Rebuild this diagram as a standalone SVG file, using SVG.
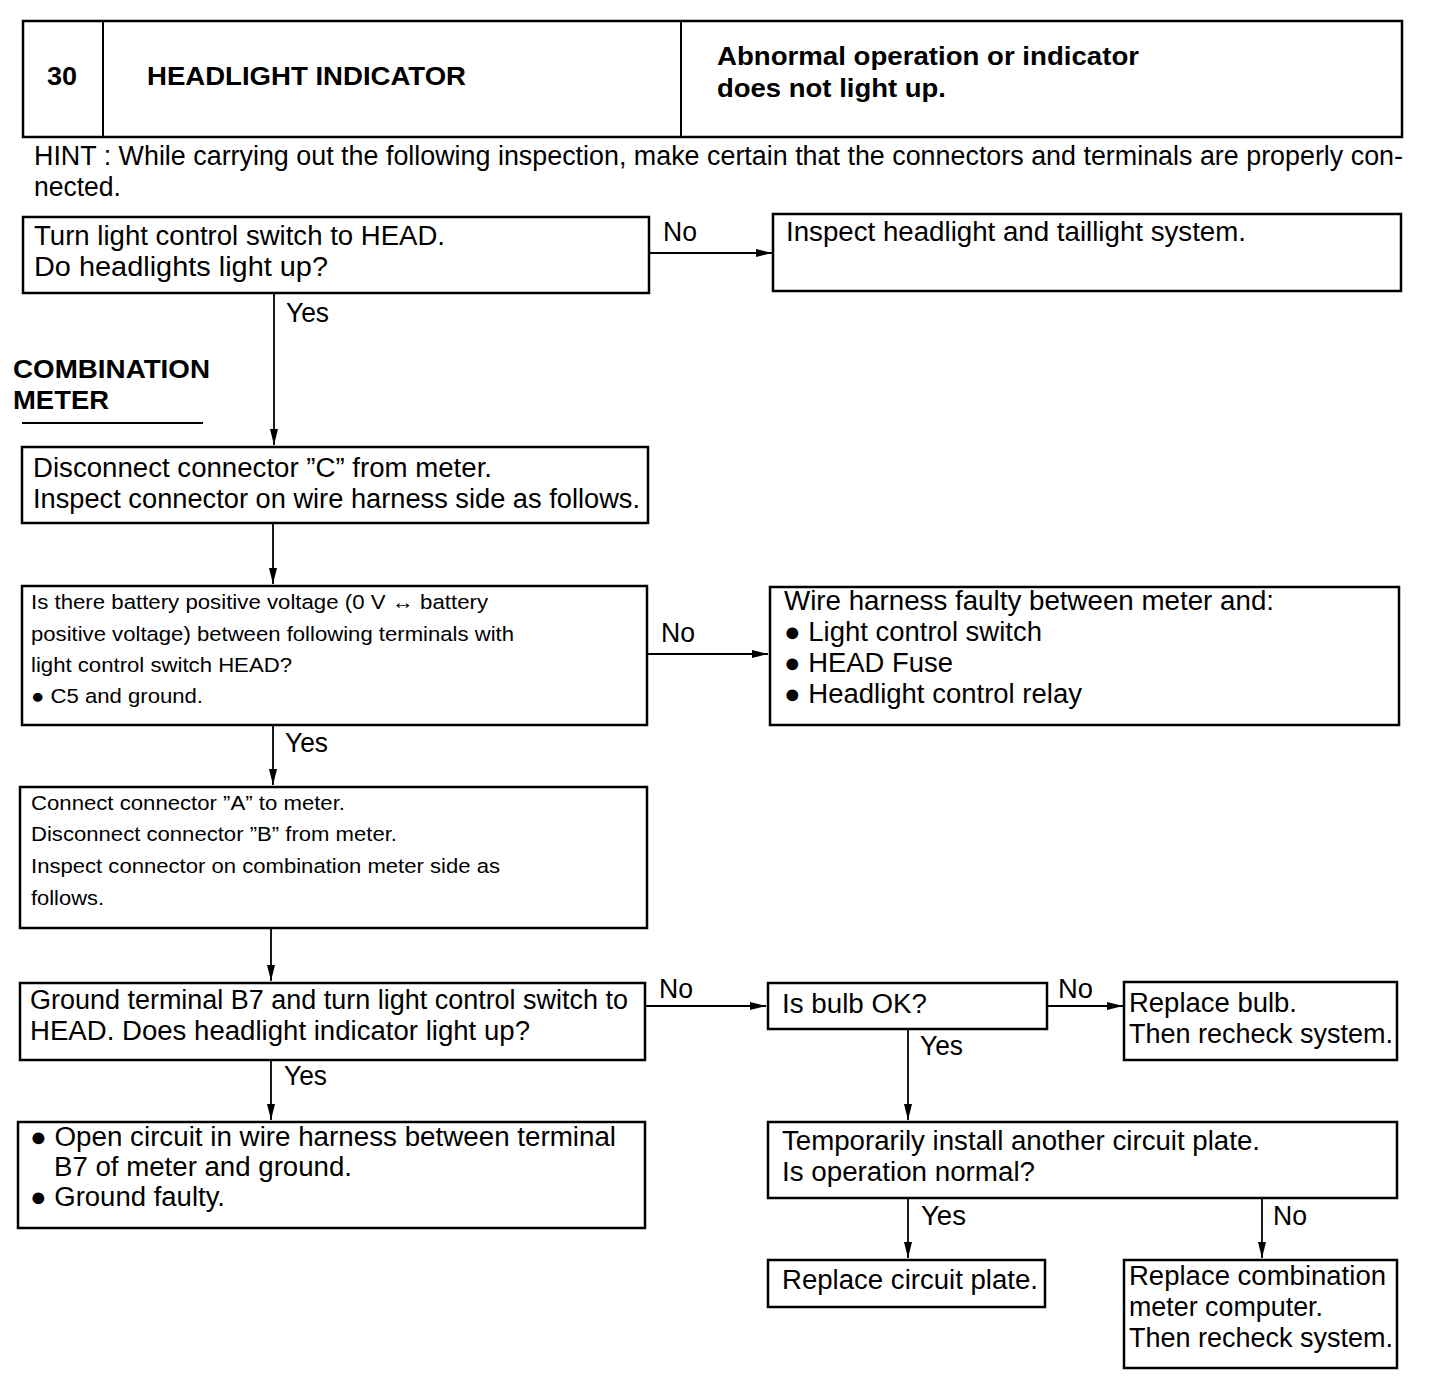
<svg xmlns="http://www.w3.org/2000/svg" width="1440" height="1398" viewBox="0 0 1440 1398">
<style>
.bx{fill:#fff;stroke:#000;stroke-width:2.5}
.t{font-family:"Liberation Sans",Arial,sans-serif;font-size:27px;fill:#000}
.s{font-family:"Liberation Sans",Arial,sans-serif;font-size:20.5px;fill:#000}
.b{font-family:"Liberation Sans",Arial,sans-serif;font-size:26px;font-weight:bold;fill:#000}
.c{fill:none;stroke:#000;stroke-width:1.8}
</style>
<defs>
<marker id="ah" viewBox="0 0 16 9" refX="16" refY="4.5" markerWidth="16" markerHeight="9" markerUnits="userSpaceOnUse" orient="auto">
<path d="M0,0.5 L16,4.5 L0,8.5 Z" fill="#000"/>
</marker>
</defs>
<rect width="1440" height="1398" fill="#fff"/>

<g id="header">
<rect class="bx" x="23" y="21" width="1379" height="116"/>
<line x1="103" y1="21" x2="103" y2="137" stroke="#000" stroke-width="2"/>
<line x1="681" y1="21" x2="681" y2="137" stroke="#000" stroke-width="2"/>
<text class="b" x="47" y="85" textLength="30" lengthAdjust="spacingAndGlyphs">30</text>
<text class="b" x="147" y="85" textLength="319" lengthAdjust="spacingAndGlyphs">HEADLIGHT INDICATOR</text>
<text class="b" x="717" y="65" textLength="422" lengthAdjust="spacingAndGlyphs">Abnormal operation or indicator</text>
<text class="b" x="717" y="97" textLength="229" lengthAdjust="spacingAndGlyphs">does not light up.</text>
</g>

<g id="hint">
<text class="t" x="34" y="165" textLength="1369" lengthAdjust="spacingAndGlyphs">HINT : While carrying out the following inspection, make certain that the connectors and terminals are properly con-</text>
<text class="t" x="34" y="196" textLength="87" lengthAdjust="spacingAndGlyphs">nected.</text>
</g>

<g id="section-label">
<text class="b" x="13" y="378" textLength="197" lengthAdjust="spacingAndGlyphs">COMBINATION</text>
<text class="b" x="13" y="409" textLength="96" lengthAdjust="spacingAndGlyphs">METER</text>
<line x1="22" y1="423" x2="203" y2="423" stroke="#000" stroke-width="2"/>
</g>

<g id="connectors">
<line class="c" x1="649" y1="253" x2="772" y2="253" marker-end="url(#ah)"/>
<line class="c" x1="274" y1="293" x2="274" y2="445" marker-end="url(#ah)"/>
<line class="c" x1="273" y1="523" x2="273" y2="584" marker-end="url(#ah)"/>
<line class="c" x1="647" y1="654" x2="768" y2="654" marker-end="url(#ah)"/>
<line class="c" x1="273" y1="725" x2="273" y2="785" marker-end="url(#ah)"/>
<line class="c" x1="271" y1="928" x2="271" y2="981" marker-end="url(#ah)"/>
<line class="c" x1="645" y1="1006" x2="766" y2="1006" marker-end="url(#ah)"/>
<line class="c" x1="1047" y1="1006" x2="1123" y2="1006" marker-end="url(#ah)"/>
<line class="c" x1="908" y1="1029" x2="908" y2="1120" marker-end="url(#ah)"/>
<line class="c" x1="908" y1="1198" x2="908" y2="1258" marker-end="url(#ah)"/>
<line class="c" x1="1262" y1="1198" x2="1262" y2="1258" marker-end="url(#ah)"/>
<line class="c" x1="271" y1="1060" x2="271" y2="1120" marker-end="url(#ah)"/>
<text class="t" x="663" y="241" textLength="34" lengthAdjust="spacingAndGlyphs">No</text>
<text class="t" x="286" y="322" textLength="43" lengthAdjust="spacingAndGlyphs">Yes</text>
<text class="t" x="661" y="642" textLength="34" lengthAdjust="spacingAndGlyphs">No</text>
<text class="t" x="285" y="752" textLength="43" lengthAdjust="spacingAndGlyphs">Yes</text>
<text class="t" x="659" y="998" textLength="34" lengthAdjust="spacingAndGlyphs">No</text>
<text class="t" x="1058" y="998" textLength="35" lengthAdjust="spacingAndGlyphs">No</text>
<text class="t" x="920" y="1055" textLength="43" lengthAdjust="spacingAndGlyphs">Yes</text>
<text class="t" x="921" y="1225" textLength="45" lengthAdjust="spacingAndGlyphs">Yes</text>
<text class="t" x="1273" y="1225" textLength="34" lengthAdjust="spacingAndGlyphs">No</text>
<text class="t" x="284" y="1085" textLength="43" lengthAdjust="spacingAndGlyphs">Yes</text>
</g>

<g id="n1">
<rect class="bx" x="23" y="217" width="626" height="76"/>
<text class="t" x="34" y="245" textLength="411" lengthAdjust="spacingAndGlyphs">Turn light control switch to HEAD.</text>
<text class="t" x="34" y="276" textLength="294" lengthAdjust="spacingAndGlyphs">Do headlights light up?</text>
</g>

<g id="n2">
<rect class="bx" x="773" y="214" width="628" height="77"/>
<text class="t" x="786" y="241" textLength="460" lengthAdjust="spacingAndGlyphs">Inspect headlight and taillight system.</text>
</g>

<g id="n3">
<rect class="bx" x="22" y="447" width="626" height="76"/>
<text class="t" x="33" y="477" textLength="459" lengthAdjust="spacingAndGlyphs">Disconnect connector ”C” from meter.</text>
<text class="t" x="33" y="508" textLength="607" lengthAdjust="spacingAndGlyphs">Inspect connector on wire harness side as follows.</text>
</g>

<g id="n4">
<rect class="bx" x="22" y="586" width="625" height="139"/>
<text class="s" x="31" y="609" textLength="457" lengthAdjust="spacingAndGlyphs">Is there battery positive voltage (0 V ↔ battery</text>
<text class="s" x="31" y="641" textLength="483" lengthAdjust="spacingAndGlyphs">positive voltage) between following terminals with</text>
<text class="s" x="31" y="672" textLength="261" lengthAdjust="spacingAndGlyphs">light control switch HEAD?</text>
<text class="s" x="31" y="703" textLength="172" lengthAdjust="spacingAndGlyphs">● C5 and ground.</text>
</g>

<g id="n5">
<rect class="bx" x="770" y="587" width="629" height="138"/>
<text class="t" x="784" y="610" textLength="490" lengthAdjust="spacingAndGlyphs">Wire harness faulty between meter and:</text>
<text class="t" x="784" y="641" textLength="258" lengthAdjust="spacingAndGlyphs">● Light control switch</text>
<text class="t" x="784" y="672" textLength="169" lengthAdjust="spacingAndGlyphs">● HEAD Fuse</text>
<text class="t" x="784" y="703" textLength="298" lengthAdjust="spacingAndGlyphs">● Headlight control relay</text>
</g>

<g id="n6">
<rect class="bx" x="20" y="787" width="627" height="141"/>
<text class="s" x="31" y="810" textLength="314" lengthAdjust="spacingAndGlyphs">Connect connector ”A” to meter.</text>
<text class="s" x="31" y="841" textLength="366" lengthAdjust="spacingAndGlyphs">Disconnect connector ”B” from meter.</text>
<text class="s" x="31" y="873" textLength="469" lengthAdjust="spacingAndGlyphs">Inspect connector on combination meter side as</text>
<text class="s" x="31" y="905" textLength="73" lengthAdjust="spacingAndGlyphs">follows.</text>
</g>

<g id="n7">
<rect class="bx" x="20" y="983" width="625" height="77"/>
<text class="t" x="30" y="1009" textLength="598" lengthAdjust="spacingAndGlyphs">Ground terminal B7 and turn light control switch to</text>
<text class="t" x="30" y="1040" textLength="500" lengthAdjust="spacingAndGlyphs">HEAD. Does headlight indicator light up?</text>
</g>

<g id="n8">
<rect class="bx" x="768" y="983" width="279" height="46"/>
<text class="t" x="782" y="1013" textLength="145" lengthAdjust="spacingAndGlyphs">Is bulb OK?</text>
</g>

<g id="n9">
<rect class="bx" x="1124" y="982" width="273" height="78"/>
<text class="t" x="1129" y="1012" textLength="168" lengthAdjust="spacingAndGlyphs">Replace bulb.</text>
<text class="t" x="1129" y="1043" textLength="264" lengthAdjust="spacingAndGlyphs">Then recheck system.</text>
</g>

<g id="n10">
<rect class="bx" x="768" y="1122" width="629" height="76"/>
<text class="t" x="782" y="1150" textLength="478" lengthAdjust="spacingAndGlyphs">Temporarily install another circuit plate.</text>
<text class="t" x="782" y="1181" textLength="253" lengthAdjust="spacingAndGlyphs">Is operation normal?</text>
</g>

<g id="n11">
<rect class="bx" x="768" y="1260" width="277" height="47"/>
<text class="t" x="782" y="1289" textLength="256" lengthAdjust="spacingAndGlyphs">Replace circuit plate.</text>
</g>

<g id="n12">
<rect class="bx" x="1124" y="1260" width="273" height="108"/>
<text class="t" x="1129" y="1285" textLength="257" lengthAdjust="spacingAndGlyphs">Replace combination</text>
<text class="t" x="1129" y="1316" textLength="194" lengthAdjust="spacingAndGlyphs">meter computer.</text>
<text class="t" x="1129" y="1347" textLength="264" lengthAdjust="spacingAndGlyphs">Then recheck system.</text>
</g>

<g id="n13">
<rect class="bx" x="18" y="1122" width="627" height="106"/>
<text class="t" x="30" y="1146" textLength="586" lengthAdjust="spacingAndGlyphs">● Open circuit in wire harness between terminal</text>
<text class="t" x="54" y="1176" textLength="298" lengthAdjust="spacingAndGlyphs">B7 of meter and ground.</text>
<text class="t" x="30" y="1206" textLength="195" lengthAdjust="spacingAndGlyphs">● Ground faulty.</text>
</g>
</svg>
